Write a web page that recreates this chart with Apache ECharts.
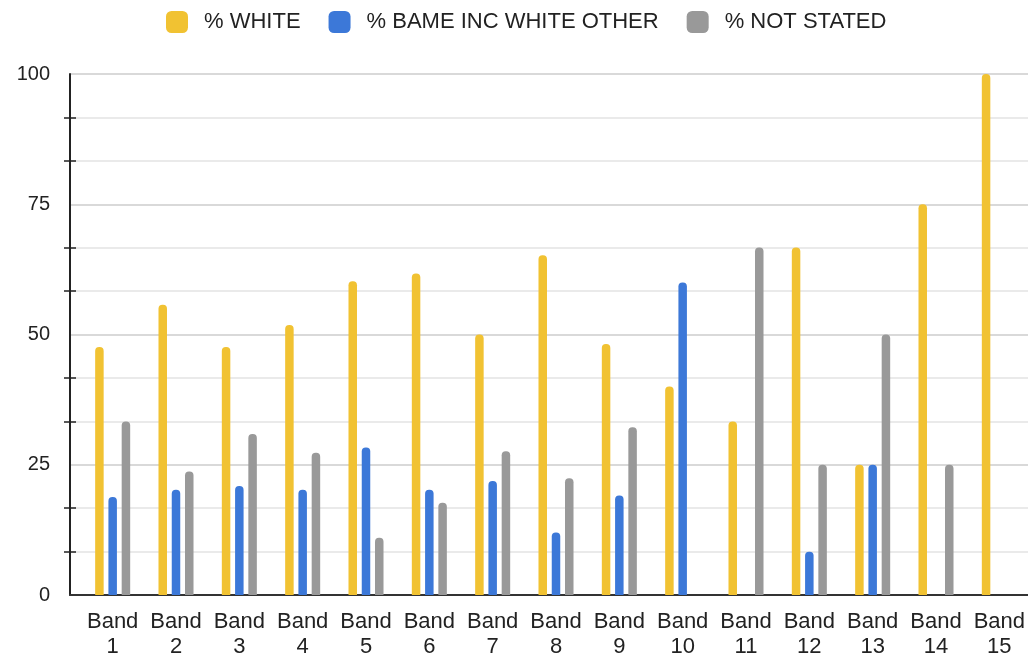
<!DOCTYPE html>
<html>
<head>
<meta charset="utf-8">
<title>Ethnicity by pay band</title>
<script src="https://cdn.jsdelivr.net/npm/echarts@6/dist/echarts.min.js"></script>
<style>
  html, body { margin: 0; padding: 0; background: #fff; }
  #chart { width: 1028px; height: 653px; }
</style>
</head>
<body>
<div id="chart"></div>
<script>
// Pay bands along the x axis
const bands = ['Band\n1', 'Band\n2', 'Band\n3', 'Band\n4', 'Band\n5', 'Band\n6', 'Band\n7', 'Band\n8',
               'Band\n9', 'Band\n10', 'Band\n11', 'Band\n12', 'Band\n13', 'Band\n14', 'Band\n15'];

// Share of staff in each band (%)
const pctWhite     = [47.6, 55.7, 47.6, 51.8, 60.2, 61.7, 50.0, 65.2, 48.2, 40.0, 33.3, 66.7, 25.0, 75.0, 100];
const pctBame      = [18.8, 20.2, 20.9, 20.2, 28.3, 20.2, 21.9, 12.0, 19.1, 60.0, 0, 8.3, 25.0, 0, 0];
const pctNotStated = [33.3, 23.7, 30.9, 27.3, 11.0, 17.7, 27.6, 22.4, 32.2, 0, 66.7, 25.0, 50.0, 25.0, 0];

const seriesNames = ['% WHITE', '% BAME INC WHITE OTHER', '% NOT STATED'];
const seriesColors = ['#f1c232', '#3c78d8', '#999999'];

// Y axis scale
const yMin = 0, yMax = 100, yStep = 25;

const FONT = 'Arial, "Liberation Sans", sans-serif';
const chart = echarts.init(document.getElementById('chart'));

const barSeries = [pctWhite, pctBame, pctNotStated].map((values, i) => ({
  name: seriesNames[i],
  type: 'bar',
  xAxisIndex: 1,
  yAxisIndex: 2,
  data: values,
  barWidth: 8.5,
  barGap: '56%',
  itemStyle: { color: seriesColors[i], borderRadius: [4, 4, 0, 0] }
}));

chart.setOption({
  animation: false,
  backgroundColor: '#ffffff',
  color: seriesColors,
  textStyle: { fontFamily: FONT },
  legend: {
    left: 161,
    top: 6,
    itemWidth: 22,
    itemHeight: 22,
    itemGap: 28,
    icon: 'roundRect',
    data: seriesNames,
    textStyle: { fontSize: 22, color: '#222', fontFamily: FONT, padding: [0, 0, 0, 11] }
  },
  grid: [
    // frame: y axis, gridlines and baseline
    { left: 70, right: 0, top: 74, bottom: 58, outerBoundsMode: 'none' },
    // bar area
    { left: 81, right: -3, top: 74, bottom: 58, outerBoundsMode: 'none' }
  ],
  xAxis: [
    {
      type: 'value', gridIndex: 0, min: 0, max: 1,
      axisLine: { show: true, onZero: false, lineStyle: { color: '#333', width: 2 } },
      axisTick: { show: false }, axisLabel: { show: false }, splitLine: { show: false }
    },
    {
      type: 'category', gridIndex: 1, data: bands,
      axisLine: { show: false }, axisTick: { show: false },
      axisLabel: { fontSize: 22, lineHeight: 25, color: '#222', margin: 14, interval: 0, fontFamily: FONT }
    }
  ],
  yAxis: [
    {
      type: 'value', gridIndex: 0, position: 'left', min: yMin, max: yMax, interval: yStep,
      axisLine: { show: true, lineStyle: { color: '#222', width: 2 } },
      axisTick: { show: false },
      minorTick: { show: true, splitNumber: 3, length: 6, lineStyle: { color: '#222', width: 1.5 } },
      axisLabel: { fontSize: 20, color: '#222', margin: 20, fontFamily: FONT },
      splitLine: { show: true, lineStyle: { color: '#cccccc', width: 1.5 } },
      minorSplitLine: { show: true, lineStyle: { color: '#e4e4e4', width: 1.5 } }
    },
    {
      // inner half of the minor ticks
      type: 'value', gridIndex: 0, position: 'left', min: yMin, max: yMax, interval: yStep,
      axisLine: { show: false },
      axisTick: { show: false, inside: true },
      minorTick: { show: true, splitNumber: 3, length: 6, lineStyle: { color: '#222', width: 1.5 } },
      axisLabel: { show: false },
      splitLine: { show: false }
    },
    {
      type: 'value', gridIndex: 1, min: yMin, max: yMax, interval: yStep, show: false
    }
  ],
  series: barSeries
});
</script>
</body>
</html>
